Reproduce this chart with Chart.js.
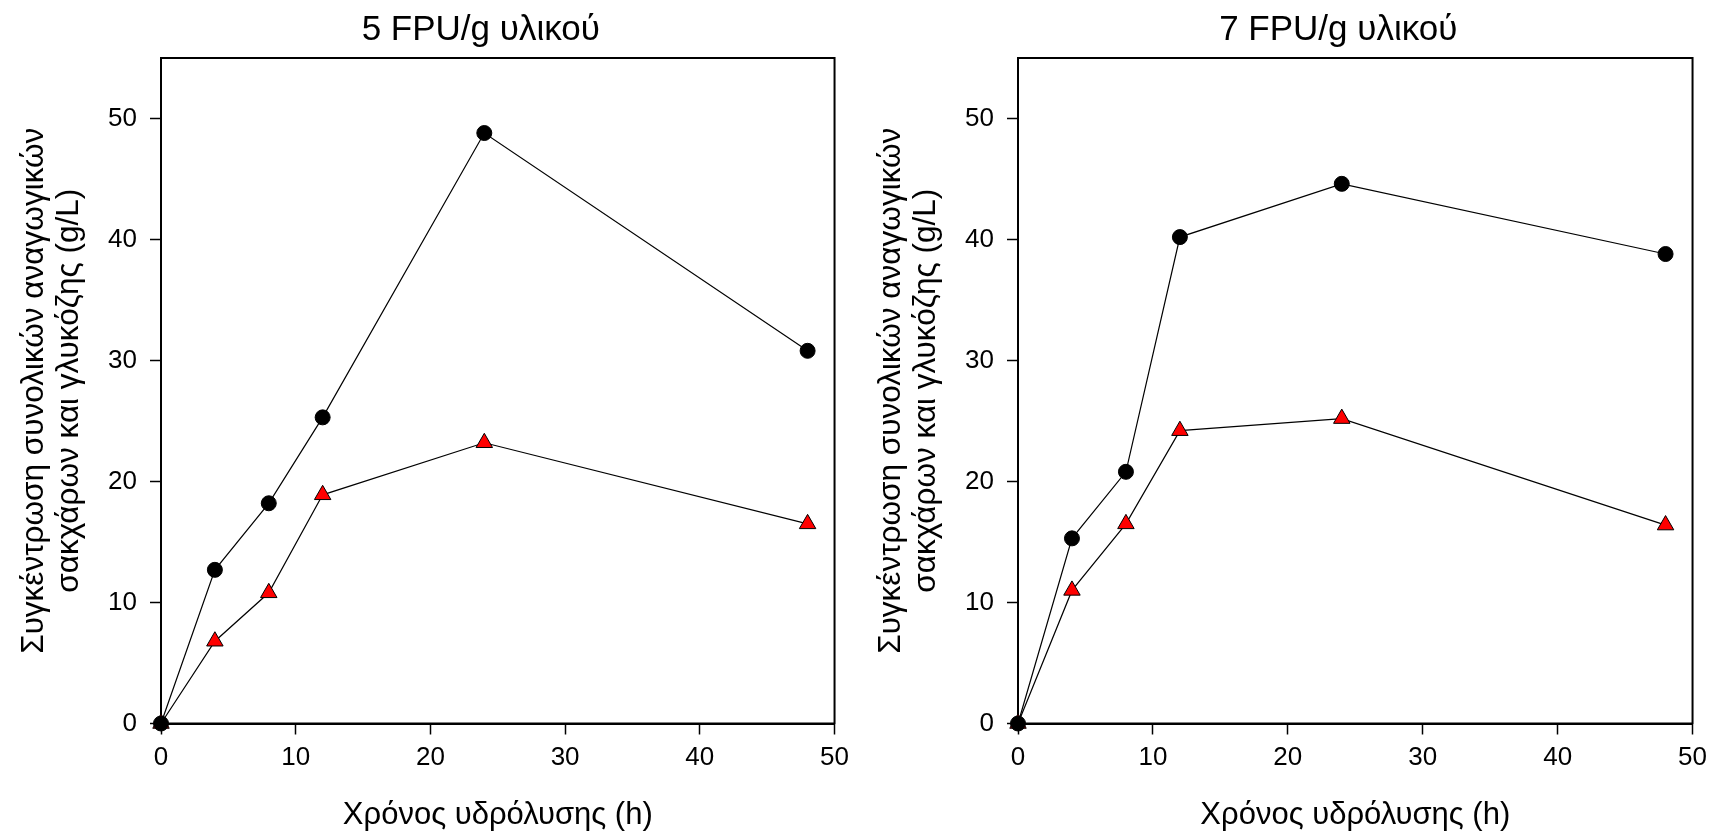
<!DOCTYPE html>
<html>
<head>
<meta charset="utf-8">
<script src="https://cdn.jsdelivr.net/npm/chart.js@4"></script>
<style>
  html, body { margin: 0; padding: 0; background: #fff; }
  body { width: 1715px; height: 838px; position: relative; overflow: hidden; }
  canvas { position: absolute; top: 0; }
</style>
</head>
<body>
<canvas id="left" width="857" height="838" style="left:0"></canvas>
<canvas id="right" width="858" height="838" style="left:857px"></canvas>
<script>
// hydrolysis time (h)
const hours = [0, 4, 8, 12, 24, 48];

// 5 FPU/g: total reducing sugars (circles) and glucose (triangles), g/L
const total5 = [0, 12.7, 18.2, 25.3, 48.8, 30.8];
const glucose5 = [0, 6.8, 10.8, 18.9, 23.2, 16.5];

// 7 FPU/g
const total7 = [0, 15.3, 20.8, 40.2, 44.6, 38.8];
const glucose7 = [0, 11.0, 16.5, 24.2, 25.2, 16.4];

const xTicks = [0, 10, 20, 30, 40, 50];
const yTicks = [0, 10, 20, 30, 40, 50];

const titles = ['5 FPU/g υλικού', '7 FPU/g υλικού'];
const xLabel = 'Χρόνος υδρόλυσης (h)';
const yLabel = ['Συγκέντρωση συνολικών αναγωγικών', 'σακχάρων και γλυκόζης (g/L)'];

const FONT = '"Liberation Sans", Arial, sans-serif';
Chart.defaults.color = '#000';
Chart.defaults.font.family = FONT;

// box round the plot area
const framePlugin = {
    id: 'frame',
    beforeDatasetsDraw(chart) {
        const { ctx, chartArea: a } = chart;
        ctx.save();
        ctx.strokeStyle = '#000';
        ctx.lineWidth = 2;
        ctx.strokeRect(a.left, a.top, a.right - a.left, a.bottom - a.top);
        ctx.restore();
    },
};

// panel title, sits a bit left of the plot centre like the original
const panelTitle = {
    id: 'panelTitle',
    afterDraw(chart, args, opts) {
        const { ctx, chartArea: a } = chart;
        ctx.save();
        ctx.font = '35px ' + FONT;
        ctx.fillStyle = '#000';
        ctx.textAlign = 'center';
        ctx.textBaseline = 'middle';
        ctx.fillText(opts.text, (a.left + a.right) / 2 - 17, 30);
        ctx.restore();
    },
};

function toPoints(values) {
    return hours.map((h, i) => ({ x: h, y: values[i] }));
}

function createPanel(canvas, title, total, glucose, padRight) {
    return new Chart(canvas.getContext('2d'), {
        type: 'line',
        data: {
            datasets: [
                {
                    label: 'total',
                    data: toPoints(total),
                    borderColor: '#000',
                    borderWidth: 1.2,
                    pointStyle: 'circle',
                    pointRadius: 7.5,
                    pointBackgroundColor: '#000',
                    pointBorderColor: '#000',
                    pointBorderWidth: 1,
                    clip: false,
                },
                {
                    label: 'glucose',
                    data: toPoints(glucose),
                    borderColor: '#000',
                    borderWidth: 1.2,
                    pointStyle: 'triangle',
                    pointRadius: 9.5,
                    pointBackgroundColor: '#ff0000',
                    pointBorderColor: '#000',
                    pointBorderWidth: 1,
                    clip: false,
                },
            ],
        },
        options: {
            responsive: false,
            devicePixelRatio: 1,
            animation: false,
            layout: { padding: { top: 58, right: padRight, left: 0, bottom: 0 } },
            plugins: {
                legend: { display: false },
                tooltip: { enabled: false },
                panelTitle: { text: title },
            },
            scales: {
                x: {
                    type: 'linear',
                    min: 0,
                    max: 50,
                    afterBuildTicks: s => { s.ticks = xTicks.map(v => ({ value: v })); },
                    afterFit: s => { s.height = 114.5; },
                    grid: { drawOnChartArea: false, drawTicks: true, tickLength: 11, tickWidth: 1.5, tickColor: '#000' },
                    border: { display: true, color: '#000', width: 2 },
                    ticks: { font: { size: 26 }, padding: 8, maxRotation: 0 },
                    title: { display: true, text: xLabel, font: { size: 31, lineHeight: 1.2 }, padding: { top: 0, bottom: 4 } },
                },
                y: {
                    min: 0,
                    max: 55,
                    afterBuildTicks: s => { s.ticks = yTicks.map(v => ({ value: v })); },
                    afterFit: s => { s.width = 161; },
                    grid: { drawOnChartArea: false, drawTicks: true, tickLength: 11, tickWidth: 1.5, tickColor: '#000' },
                    border: { display: true, color: '#000', width: 2 },
                    ticks: { font: { size: 26 }, padding: 13 },
                    title: { display: true, text: yLabel, font: { size: 31.5, lineHeight: 1.1 }, padding: { top: 17, bottom: 0 } },
                },
            },
        },
        plugins: [framePlugin, panelTitle],
    });
}

createPanel(document.getElementById('left'), titles[0], total5, glucose5, 18);
createPanel(document.getElementById('right'), titles[1], total7, glucose7, 20);
</script>
</body>
</html>
